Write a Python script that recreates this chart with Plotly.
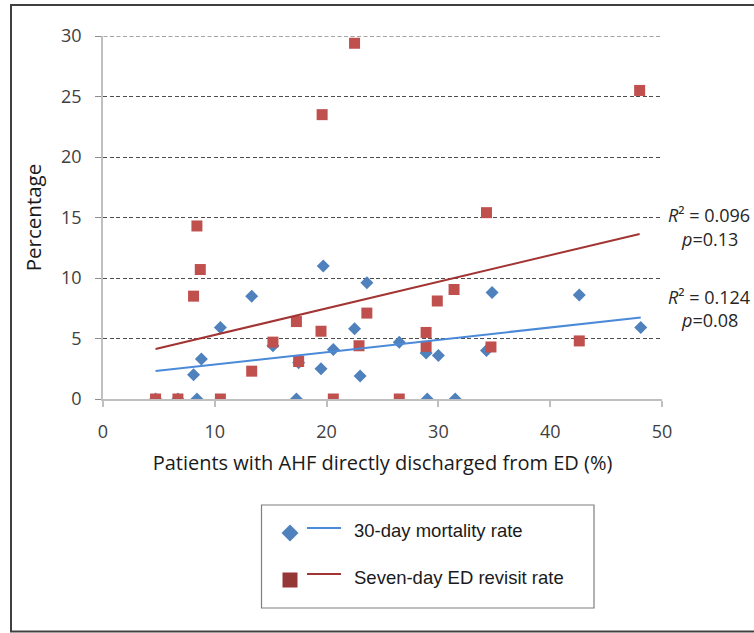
import numpy as np
import plotly.graph_objects as go

# 30-day mortality rate (blue diamonds)
mort_x = [4.7, 6.7, 8.1, 8.8, 8.4, 10.5, 13.3, 15.2, 17.3, 17.5, 19.7, 19.5, 20.6, 22.5, 23.0, 23.6,
          26.5, 28.9, 30.0, 29.0, 31.5, 34.3, 34.8, 42.6, 48.1]
mort_y = [0.0, 0.0, 2.0, 3.3, 0.0, 5.9, 8.5, 4.4, 0.0, 3.0, 11.0, 2.5, 4.1, 5.8, 1.9, 9.6,
          4.7, 3.8, 3.6, 0.0, 0.0, 4.0, 8.8, 8.6, 5.9]
# Seven-day ED revisit rate (red squares)
rev_x = [22.5, 19.6, 48.0, 34.3, 8.4, 8.7, 8.1, 4.7, 6.7, 10.5, 13.3, 15.2, 17.3, 17.5,
         19.5, 20.6, 22.9, 23.6, 26.5, 28.9, 28.9, 29.9, 31.4, 34.7, 42.6]
rev_y = [29.4, 23.5, 25.5, 15.4, 14.3, 10.7, 8.5, 0.0, 0.0, 0.0, 2.3, 4.7, 6.4, 3.1,
         5.6, 0.0, 4.4, 7.1, 0.0, 5.5, 4.35, 8.1, 9.05, 4.3, 4.8]

y_max = 30
series_names = ["30-day mortality rate", "Seven-day ED revisit rate"]
stats_red = ["<i>R</i>² = 0.096", "<i>p</i>=0.13"]
stats_blue = ["<i>R</i>² = 0.124", "<i>p</i>=0.08"]

W, H = 754, 633
L, R, T, B = 103, 662, 36, 399  # plot area in px


def px(x):
    return (x - L) / (R - L)


def py(y):
    return (B - y) / (B - T)


def fit_line(xs, ys):
    k, b = np.polyfit(xs, ys, 1)
    x0, x1 = min(xs), max(xs)
    return [x0, x1], [k * x0 + b, k * x1 + b]


BLUE = "#4F81BD"
RED = "#C0504D"
BLUE_LINE = "#4A8AD8"
RED_LINE = "#A33434"
GRID_COLOR = "#4d4d4d"
GRID_DASH = "4px,2.5px"

fig = go.Figure()
fig.add_trace(go.Scatter(x=mort_x, y=mort_y, mode="markers", name=series_names[0],
                         marker=dict(symbol="diamond", size=10, color=BLUE), showlegend=False))
fig.add_trace(go.Scatter(x=rev_x, y=rev_y, mode="markers", name=series_names[1],
                         marker=dict(symbol="square", size=11, color=RED), showlegend=False))
bx, by = fit_line(mort_x, mort_y)
rx, ry = fit_line(rev_x, rev_y)
fig.add_trace(go.Scatter(x=bx, y=by, mode="lines", line=dict(color=BLUE_LINE, width=2),
                         showlegend=False, hoverinfo="skip"))
fig.add_trace(go.Scatter(x=rx, y=ry, mode="lines", line=dict(color=RED_LINE, width=2),
                         showlegend=False, hoverinfo="skip"))

shapes = []
# outer frame
shapes.append(dict(type="rect", xref="paper", yref="paper", x0=px(11), x1=px(790), y0=py(631.5), y1=py(5),
                   line=dict(color="#404040", width=2), layer="below"))
# top gridline (plotly omits the gridline at the edge of the range)
shapes.append(dict(type="line", xref="paper", yref="y", x0=px(97), x1=1, y0=y_max, y1=y_max,
                   line=dict(color=GRID_COLOR, width=1, dash=GRID_DASH), layer="below"))
# legend box
shapes.append(dict(type="rect", xref="paper", yref="paper", x0=px(261.5), x1=px(594), y0=py(608), y1=py(505),
                   line=dict(color="#7f7f7f", width=1.2)))
# legend diamond
cx, cy, h = 290, 533, 8.5
shapes.append(dict(type="path", xref="paper", yref="paper",
                   path=f"M {px(cx)},{py(cy-h)} L {px(cx+h)},{py(cy)} L {px(cx)},{py(cy+h)} L {px(cx-h)},{py(cy)} Z",
                   fillcolor=BLUE, line=dict(width=0)))
# legend square
cx, cy, h = 290, 580, 7.5
shapes.append(dict(type="rect", xref="paper", yref="paper", x0=px(cx-h), x1=px(cx+h), y0=py(cy+h), y1=py(cy-h),
                   fillcolor="#953735", line=dict(width=0)))
# legend lines
shapes.append(dict(type="line", xref="paper", yref="paper", x0=px(307), x1=px(341), y0=py(528), y1=py(528),
                   line=dict(color=BLUE_LINE, width=2)))
shapes.append(dict(type="line", xref="paper", yref="paper", x0=px(307), x1=px(341), y0=py(574), y1=py(574),
                   line=dict(color=RED_LINE, width=2)))

annotations = []
for txt, yy in zip(series_names, [530, 577]):
    annotations.append(dict(xref="paper", yref="paper", x=px(352), y=py(yy), text=txt, showarrow=False,
                            xanchor="left", yanchor="middle",
                            font=dict(family="Liberation Sans, Arial", size=18.5, color="#1a1a1a")))
for txt, yy in zip(stats_red + stats_blue, [215, 239, 297, 320]):
    annotations.append(dict(xref="paper", yref="paper", x=px(709), y=py(yy), text=txt, showarrow=False,
                            xanchor="center", yanchor="middle",
                            font=dict(family="Open Sans", size=18, color="#262626")))

fig.update_layout(
    width=W, height=H,
    margin=dict(l=L, r=W - R, t=T, b=H - B),
    paper_bgcolor="white", plot_bgcolor="white",
    shapes=shapes, annotations=annotations,
    font=dict(family="Open Sans", color="#404040"),
    xaxis=dict(range=[0, 50], dtick=10, tick0=0, showgrid=False, zeroline=False,
               showline=True, linecolor="#bfbfbf", linewidth=1.5,
               ticks="outside", ticklen=6, tickcolor="#bfbfbf", tickwidth=1.5,
               ticklabelstandoff=10,
               tickfont=dict(size=18, color="#404040"),
               title=dict(text="Patients with AHF directly discharged from ED (%)",
                          font=dict(size=20, color="#1a1a1a"), standoff=14)),
    yaxis=dict(range=[0, y_max], dtick=5, tick0=0, showgrid=True, gridcolor=GRID_COLOR, gridwidth=1,
               griddash=GRID_DASH, zeroline=False,
               showline=True, linecolor="#bfbfbf", linewidth=1.5,
               ticks="outside", ticklen=6, tickcolor="#8c8c8c", tickwidth=1,
               ticklabelstandoff=10,
               tickfont=dict(size=18, color="#404040"),
               title=dict(text="Percentage", font=dict(size=20.5, color="#1a1a1a"), standoff=14)),
)

fig.write_html("out.html", config={"displayModeBar": False},
               post_script="document.body.style.margin='0';document.body.style.overflow='hidden';")
